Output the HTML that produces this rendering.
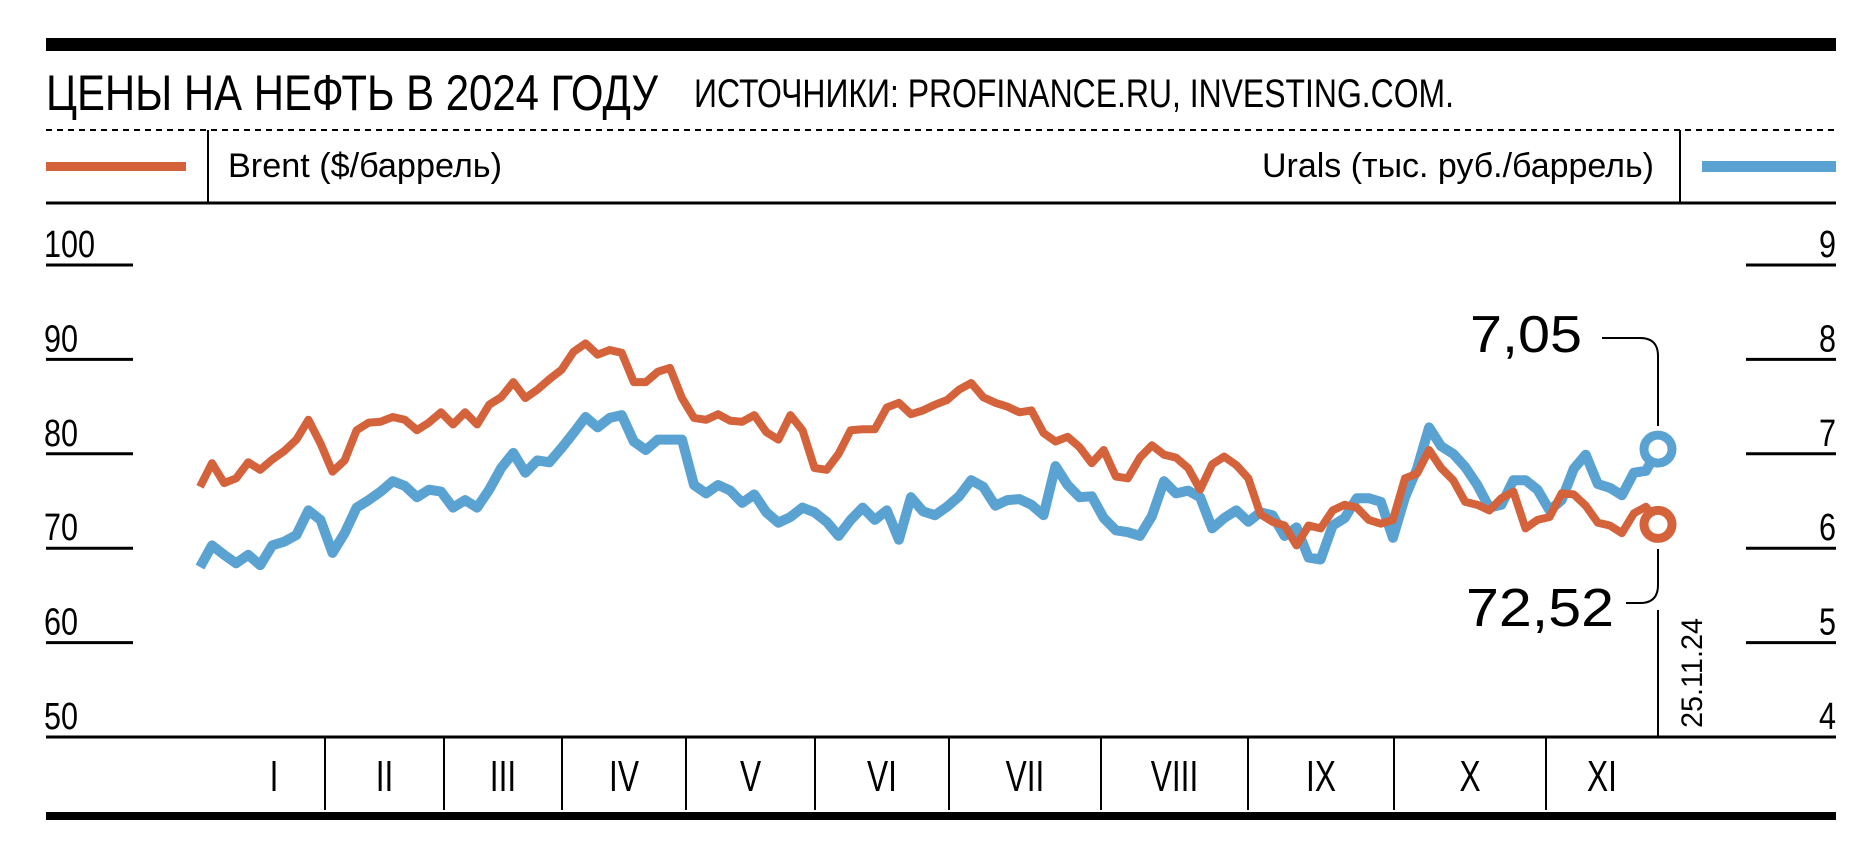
<!DOCTYPE html>
<html><head><meta charset="utf-8"><style>
html,body{margin:0;padding:0;background:#fff;}
svg{display:block;}
text{font-family:"Liberation Sans Narrow","Liberation Sans",sans-serif;fill:#000;}
.reg{font-family:"Liberation Sans",sans-serif;}
</style></head><body>
<svg id="chart" width="1872" height="858" viewBox="0 0 1872 858" xmlns="http://www.w3.org/2000/svg">
<rect x="46" y="38" width="1790" height="13" fill="#000"/>
<text x="46" y="110" font-size="50" textLength="612" lengthAdjust="spacingAndGlyphs">ЦЕНЫ НА НЕФТЬ В 2024 ГОДУ</text>
<text x="694" y="107" font-size="40" textLength="760" lengthAdjust="spacingAndGlyphs">ИСТОЧНИКИ: PROFINANCE.RU, INVESTING.COM.</text>
<line x1="46" y1="130" x2="1836" y2="130" stroke="#000" stroke-width="2" stroke-dasharray="6,5"/>
<line x1="208" y1="130" x2="208" y2="203" stroke="#000" stroke-width="2"/>
<line x1="1680" y1="130" x2="1680" y2="203" stroke="#000" stroke-width="2"/>
<line x1="46" y1="203" x2="1836" y2="203" stroke="#000" stroke-width="3"/>
<rect x="46" y="162" width="140" height="9" fill="#d4623b"/>
<rect x="1702" y="161" width="134" height="11" fill="#5aa2d2"/>
<text x="228" y="177" font-size="34" textLength="274" lengthAdjust="spacingAndGlyphs">Brent ($/баррель)</text>
<text x="1262" y="177" font-size="34" textLength="392" lengthAdjust="spacingAndGlyphs">Urals (тыс. руб./баррель)</text>
<g id="axes"></g>
<g id="series"></g>
<line x1="46" y1="737" x2="1836" y2="737" stroke="#000" stroke-width="3"/>
<rect x="46" y="812" width="1790" height="8" fill="#000"/>
<path d="M1602,338 H1640 Q1658,338 1658,356 V426" fill="none" stroke="#000" stroke-width="2"/>
<path d="M1658,549 V585 Q1658,603 1640,603 H1626" fill="none" stroke="#000" stroke-width="2"/>
<line x1="1658" y1="610" x2="1658" y2="737" stroke="#000" stroke-width="2"/>
<text class="reg" x="1582" y="352" font-size="52" text-anchor="end" textLength="112" lengthAdjust="spacingAndGlyphs">7,05</text>
<text class="reg" x="1614" y="626" font-size="54" text-anchor="end" textLength="148" lengthAdjust="spacingAndGlyphs">72,52</text>
<text class="reg" transform="translate(1702,728) rotate(-90)" font-size="30" textLength="110" lengthAdjust="spacingAndGlyphs">25.11.24</text>
</svg>
<script>
const brent = [76.5,79.0,76.9,77.4,79.1,78.3,79.4,80.3,81.5,83.6,81.1,78.1,79.3,82.5,83.3,83.4,83.9,83.6,82.5,83.3,84.4,83.1,84.4,83.1,85.2,86.0,87.6,85.9,86.8,87.9,88.9,90.8,91.7,90.5,91.0,90.7,87.6,87.6,88.7,89.1,85.9,83.8,83.6,84.2,83.5,83.4,84.1,82.3,81.5,84.1,82.5,78.5,78.3,80.0,82.5,82.6,82.6,84.9,85.4,84.2,84.6,85.2,85.7,86.8,87.5,86.0,85.4,85.0,84.4,84.6,82.2,81.3,81.8,80.7,79.0,80.4,77.6,77.4,79.6,80.9,79.9,79.6,78.5,76.2,78.9,79.7,78.8,77.4,73.6,72.8,72.4,70.3,72.4,72.1,74.0,74.6,74.3,73.0,72.6,73.0,77.4,77.9,80.4,78.5,77.2,74.9,74.6,74.0,75.3,76.0,72.1,73.0,73.3,75.8,75.7,74.5,72.7,72.4,71.6,73.7,74.4,72.52];
const urals = [5.80,6.03,5.93,5.84,5.93,5.82,6.03,6.07,6.14,6.40,6.30,5.95,6.16,6.43,6.51,6.60,6.71,6.66,6.54,6.62,6.60,6.43,6.51,6.43,6.62,6.85,7.01,6.80,6.93,6.91,7.06,7.22,7.39,7.28,7.38,7.41,7.13,7.04,7.15,7.15,7.15,6.67,6.58,6.67,6.61,6.48,6.57,6.38,6.27,6.33,6.43,6.38,6.28,6.13,6.30,6.43,6.30,6.40,6.09,6.54,6.39,6.35,6.44,6.55,6.72,6.65,6.45,6.51,6.52,6.46,6.35,6.87,6.67,6.54,6.55,6.32,6.19,6.17,6.13,6.34,6.71,6.58,6.61,6.54,6.21,6.32,6.40,6.28,6.38,6.35,6.13,6.22,5.90,5.88,6.24,6.32,6.53,6.53,6.49,6.11,6.54,6.84,7.28,7.08,7.00,6.86,6.67,6.43,6.46,6.72,6.72,6.62,6.40,6.51,6.84,6.99,6.68,6.64,6.56,6.80,6.82,7.05];
const leftTicks = [50,60,70,80,90,100];
const rightTicks = [4,5,6,7,8,9];
const months = ["I","II","III","IV","V","VI","VII","VIII","IX","X","XI"];
const monthBounds = [200,325,444,562,686,815,949,1101,1248,1394,1546,1658];

const NS = "http://www.w3.org/2000/svg";
const X0 = 200, X1 = 1658;
function xIdx(i, n){ return X0 + (X1 - X0) * i / (n - 1); }
function yLeft(v){ return 737 - (v - 50) * 9.44; }
function yRight(v){ return 737 - (v - 4) * 94.4; }
function mk(tag, attrs, parent){
  const el = document.createElementNS(NS, tag);
  for (const k in attrs) el.setAttribute(k, attrs[k]);
  parent.appendChild(el);
  return el;
}
const axes = document.getElementById('axes');
leftTicks.forEach(function(t){
  const y = yLeft(t);
  if (t !== 50) {
    const ln = mk('line', {x1:46, x2:133, y1:y, y2:y, stroke:'#000', 'stroke-width':3}, axes);
    
    
  }
  const tx = mk('text', {x:44, y:y - 8, 'font-size':38, textLength: String(t).length * 17, lengthAdjust:'spacingAndGlyphs'}, axes);
  tx.textContent = t;
  
  
});
rightTicks.forEach(function(t){
  const y = yRight(t);
  if (t !== 4) {
    const ln = mk('line', {x1:1746, x2:1836, y1:y, y2:y, stroke:'#000', 'stroke-width':3}, axes);
    
    
  }
  const tx = mk('text', {x:1819, y:y - 8, 'font-size':38, textLength:17, lengthAdjust:'spacingAndGlyphs'}, axes);
  tx.textContent = t;
  
  
});
months.forEach(function(m, i){
  const a = monthBounds[i], b = monthBounds[i + 1];
  if (i > 0) {
    const ln = mk('line', {x1:a, x2:a, y1:737, y2:810, stroke:'#000', 'stroke-width':2}, axes);
    
    
  }
  const cx = i === 0 ? 274 : (a + b) / 2;
  const tx = mk('text', {x:0, y:0, 'font-size':44, 'text-anchor':'middle', transform:'translate(' + cx + ',791) scale(0.72,1)'}, axes);
  tx.textContent = m;
  
  
});
const series = document.getElementById('series');
function pathFor(arr, yf){
  return arr.map(function(v, i){ return (i ? 'L' : 'M') + xIdx(i, arr.length).toFixed(1) + ',' + yf(v).toFixed(1); }).join(' ');
}
const pu = mk('path', {d:pathFor(urals, yRight), fill:'none', stroke:'#5aa2d2', 'stroke-width':10, 'stroke-linejoin':'round'}, series);


const pb = mk('path', {d:pathFor(brent, yLeft), fill:'none', stroke:'#d4623b', 'stroke-width':8, 'stroke-linejoin':'round'}, series);


const cu = mk('circle', {cx:xIdx(urals.length - 1, urals.length), cy:yRight(urals[urals.length - 1]), r:14, fill:'#fff', stroke:'#5aa2d2', 'stroke-width':9}, series);


const cb = mk('circle', {cx:xIdx(brent.length - 1, brent.length), cy:yLeft(brent[brent.length - 1]), r:14, fill:'#fff', stroke:'#d4623b', 'stroke-width':9}, series);


</script>
</body></html>
